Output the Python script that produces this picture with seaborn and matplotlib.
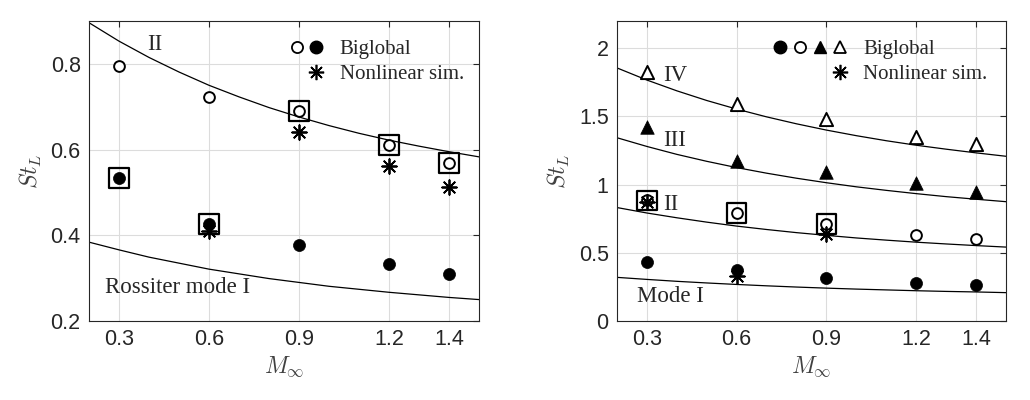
import numpy as np
import pandas as pd
import matplotlib
matplotlib.use('Agg')
import matplotlib.pyplot as plt
import seaborn as sns
from matplotlib.legend_handler import HandlerTuple
from matplotlib.lines import Line2D

# ---- data ----
mach = [0.3, 0.6, 0.9, 1.2, 1.4]
mach_curve = [0.2, 0.3, 0.4, 0.5, 0.6, 0.7, 0.8, 0.9, 1.0, 1.1, 1.2, 1.3, 1.4, 1.5]

# left panel
left_mode1_bg = [0.533, 0.427, 0.377, 0.333, 0.310]
left_mode2_bg = [0.795, 0.722, 0.690, 0.610, 0.568]
left_nl_mach = [0.6, 0.9, 1.2, 1.4]
left_nl = [0.410, 0.640, 0.562, 0.513]
left_dom = [0.533, 0.427, 0.690, 0.610, 0.568]
left_ross1 = [0.384, 0.366, 0.349, 0.335, 0.321, 0.310, 0.299, 0.290, 0.281, 0.274, 0.267, 0.261, 0.255, 0.250]
left_ross2 = [0.896, 0.853, 0.815, 0.781, 0.750, 0.723, 0.698, 0.676, 0.656, 0.638, 0.622, 0.608, 0.595, 0.583]

# right panel
right_mode1_bg = [0.432, 0.376, 0.315, 0.281, 0.266]
right_mode2_bg = [0.884, 0.791, 0.713, 0.632, 0.603]
right_mode3_bg = [1.426, 1.177, 1.096, 1.011, 0.945]
right_mode4_bg = [1.824, 1.592, 1.482, 1.348, 1.300]
right_nl_mach = [0.3, 0.6, 0.9]
right_nl = [0.870, 0.327, 0.640]
right_dom_mach = [0.3, 0.6, 0.9]
right_dom = [0.884, 0.791, 0.713]
right_ross1 = [0.320, 0.305, 0.291, 0.279, 0.268, 0.258, 0.249, 0.241, 0.234, 0.228, 0.222, 0.217, 0.213, 0.208]
right_ross2 = [0.832, 0.792, 0.757, 0.725, 0.696, 0.671, 0.648, 0.628, 0.609, 0.593, 0.578, 0.565, 0.553, 0.542]
right_ross3 = [1.344, 1.280, 1.222, 1.171, 1.125, 1.084, 1.047, 1.014, 0.984, 0.958, 0.934, 0.912, 0.893, 0.875]
right_ross4 = [1.856, 1.767, 1.688, 1.617, 1.554, 1.497, 1.446, 1.400, 1.359, 1.322, 1.289, 1.260, 1.233, 1.208]

# ---- style ----
sns.set_theme(style='white')
plt.rcParams['font.family'] = ['Liberation Sans', 'DejaVu Sans']
plt.rcParams['mathtext.fontset'] = 'cm'
axcol = '#262626'
serif = ['Liberation Serif', 'DejaVu Serif']
star = (8, 2, 0)

fig = plt.figure(figsize=(10.3, 4), dpi=100)
ax1 = fig.add_axes([0.0864, 0.1975, 0.3786, 0.75])
ax2 = fig.add_axes([0.599, 0.1975, 0.3777, 0.75])


def style_axes(ax, ylim, yticks, ylabels):
    ax.set_xlim(0.2, 1.5)
    ax.set_ylim(*ylim)
    ax.set_xticks(mach)
    ax.set_xticklabels(['0.3', '0.6', '0.9', '1.2', '1.4'])
    ax.set_yticks(yticks)
    ax.set_yticklabels(ylabels)
    ax.grid(True, color='#dcdcdc', linewidth=0.8)
    ax.set_axisbelow(True)
    for s in ax.spines.values():
        s.set_color(axcol)
        s.set_linewidth(0.8)
    ax.tick_params(direction='in', length=4, width=0.8, colors=axcol,
                   labelsize=15.5, pad=6, top=True, right=True)
    ax.set_xlabel(r'$M_\infty$', fontsize=17, color='#404040', labelpad=3)
    ax.set_ylabel(r'$St_L$', fontsize=17, color='#404040', labelpad=5)


def curve(ax, y):
    sns.lineplot(x=mach_curve, y=y, color='black', linewidth=0.9, ax=ax)


def pts(ax, x, y, kind):
    if kind == 'fc':
        sns.scatterplot(x=x, y=y, marker='o', s=75, color='black', edgecolor='black', linewidth=0.5, ax=ax, zorder=4)
    elif kind == 'oc':
        sns.scatterplot(x=x, y=y, marker='o', s=60, color='white', edgecolor='black', linewidth=1.4, ax=ax, zorder=4)
    elif kind == 'ft':
        sns.scatterplot(x=x, y=y, marker='^', s=95, color='black', edgecolor='black', linewidth=0.5, ax=ax, zorder=4)
    elif kind == 'ot':
        sns.scatterplot(x=x, y=y, marker='^', s=90, color='white', edgecolor='black', linewidth=1.4, ax=ax, zorder=4)
    elif kind == 'st':
        sns.scatterplot(x=x, y=y, marker=star, s=110, color='black', linewidth=1.3, ax=ax, zorder=5)
    elif kind == 'sq':
        sns.scatterplot(x=x, y=y, marker='s', s=200, color='none', edgecolor='black', linewidth=1.6, ax=ax, zorder=3)


mk = dict(linestyle='none', markeredgecolor='black')
blank = Line2D([], [], linestyle='none', marker='o', markersize=8, alpha=0)
h_star = Line2D([], [], marker=star, markersize=11, color='black', markeredgewidth=1.2, linestyle='none')
leg_font = {'family': 'Liberation Serif', 'size': 15}

# ---- left panel ----
style_axes(ax1, (0.2, 0.9), [0.2, 0.4, 0.6, 0.8], ['0.2', '0.4', '0.6', '0.8'])
curve(ax1, left_ross1)
curve(ax1, left_ross2)
pts(ax1, mach, left_dom, 'sq')
pts(ax1, left_nl_mach, left_nl, 'st')
pts(ax1, mach, left_mode1_bg, 'fc')
pts(ax1, mach, left_mode2_bg, 'oc')
ax1.text(0.395, 0.846, 'II', family=serif, fontsize=16.5, ha='left', va='center')
ax1.text(0.252, 0.278, 'Rossiter mode I', family=serif, fontsize=16.5, ha='left', va='center')

h_bg1 = (Line2D([], [], marker='o', markersize=8, markerfacecolor='white', markeredgewidth=1.3, **mk),
         Line2D([], [], marker='o', markersize=9, markerfacecolor='black', **mk))
ax1.legend([h_bg1, (blank, h_star)], ['Biglobal', 'Nonlinear sim.'],
           handler_map={tuple: HandlerTuple(ndivide=None, pad=0.1)},
           prop=leg_font, frameon=False,
           loc='upper right', bbox_to_anchor=(1.01, 1.0), handlelength=1.8,
           handletextpad=0.7, labelspacing=0.25)

# ---- right panel ----
style_axes(ax2, (0, 2.2), [0, 0.5, 1, 1.5, 2], ['0', '0.5', '1', '1.5', '2'])
for c in (right_ross1, right_ross2, right_ross3, right_ross4):
    curve(ax2, c)
pts(ax2, right_dom_mach, right_dom, 'sq')
pts(ax2, mach, right_mode1_bg, 'fc')
pts(ax2, mach, right_mode2_bg, 'oc')
pts(ax2, mach, right_mode3_bg, 'ft')
pts(ax2, mach, right_mode4_bg, 'ot')
pts(ax2, right_nl_mach, right_nl, 'st')
ax2.text(0.353, 1.80, 'IV', family=serif, fontsize=16.5, ha='left', va='center')
ax2.text(0.353, 1.324, 'III', family=serif, fontsize=16.5, ha='left', va='center')
ax2.text(0.355, 0.855, 'II', family=serif, fontsize=16.5, ha='left', va='center')
ax2.text(0.266, 0.18, 'Mode I', family=serif, fontsize=16.5, ha='left', va='center')

h_bg2 = (Line2D([], [], marker='o', markersize=9, markerfacecolor='black', **mk),
         Line2D([], [], marker='o', markersize=8, markerfacecolor='white', markeredgewidth=1.3, **mk),
         Line2D([], [], marker='^', markersize=9, markerfacecolor='black', **mk),
         Line2D([], [], marker='^', markersize=8, markerfacecolor='white', markeredgewidth=1.3, **mk))
ax2.legend([h_bg2, (blank, blank, blank, h_star)], ['Biglobal', 'Nonlinear sim.'],
           handler_map={tuple: HandlerTuple(ndivide=None, pad=0.1)},
           prop=leg_font, frameon=False,
           loc='upper right', bbox_to_anchor=(1.0, 1.0), handlelength=3.7,
           handletextpad=0.7, labelspacing=0.25)

fig.savefig('out.png', dpi=100)
